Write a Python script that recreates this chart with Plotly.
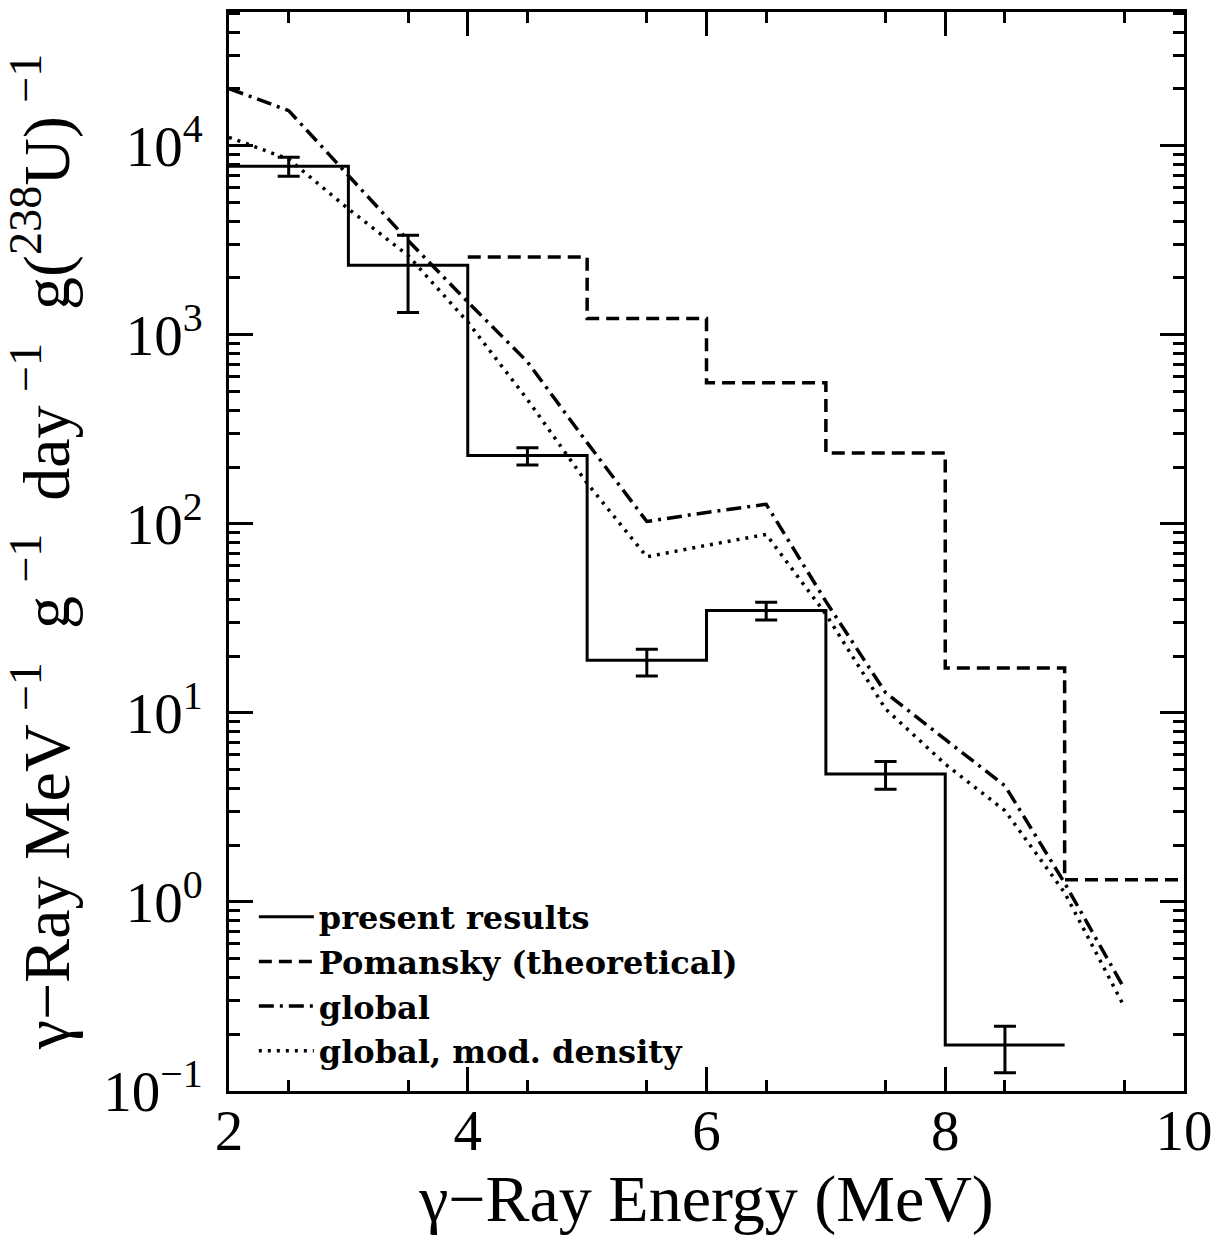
import plotly.graph_objects as go

# ---------------- data ----------------
bin_edges = [2, 3, 4, 5, 6, 7, 8, 9]
present_vals = [7800, 2333, 230, 19.0, 34.8, 4.75, 0.175]

err_x = [2.5, 3.5, 4.5, 5.5, 6.5, 7.5, 8.5]
err_upper = [8700, 3360, 253, 21.7, 38.5, 5.53, 0.22]
err_lower = [6900, 1312, 205, 15.7, 31.0, 3.95, 0.125]

pom_edges = [4, 5, 6, 7, 8, 9, 10]
pom_vals = [2580, 1219, 558, 237, 17.3, 1.31]

model_x = [2.0, 2.5, 3.0, 3.5, 4.0, 4.5, 5.0, 5.5, 6.0, 6.5, 7.0, 7.5, 8.0, 8.5, 9.0, 9.5]
global_vals = [20100, 15350, 6970, 3160, 1493, 720, 269, 103, 115, 127, 38.9, 12.8, 7.24, 4.12, 1.26, 0.348]
global_mod_vals = [11100, 8500, 4640, 2630, 1170, 455, 164, 67, 77, 88, 33.3, 10.5, 5.36, 3.04, 1.12, 0.279]

y_tick_vals = [0.1, 1, 10, 100, 1000, 10000]
y_tick_text = ["10<sup>\u22121</sup>", "10<sup>0</sup>", "10<sup>1</sup>",
               "10<sup>2</sup>", "10<sup>3</sup>", "10<sup>4</sup>"]
x_tick_vals = [2, 4, 6, 8, 10]
x_tick_text = ["2", "4", "6", "8", "10"]

legend_names = ["present results", "Pomansky (theoretical)", "global", "global, mod. density"]

x_title = "\u03b3\u2212Ray Energy (MeV)"
y_title = ("\u03b3\u2212Ray MeV\u2009<sup>\u22121</sup>\u2002g\u2009<sup>\u22121</sup>\u2002"
           "day\u2009<sup>\u22121</sup>\u2002g(<sup>238</sup>U)\u2009<sup>\u22121</sup>")

# ---------------- figure ----------------
TICKFONT = dict(family="Liberation Serif", size=57, color="black")

fig = go.Figure()

fig.add_trace(go.Scatter(
    x=bin_edges, y=present_vals + [present_vals[-1]],
    mode="lines", line=dict(color="black", width=3, shape="hv"),
    name=legend_names[0]))

fig.add_trace(go.Scatter(
    x=pom_edges, y=pom_vals + [pom_vals[-1]],
    mode="lines", line=dict(color="black", width=3.5, shape="hv", dash="13px,7px"),
    name=legend_names[1]))

fig.add_trace(go.Scatter(
    x=model_x, y=global_vals,
    mode="lines", line=dict(color="black", width=3.5, dash="15px,6px,3px,6px"),
    name=legend_names[2]))

fig.add_trace(go.Scatter(
    x=model_x, y=global_mod_vals,
    mode="lines", line=dict(color="black", width=3.5, dash="3px,6px"),
    name=legend_names[3]))

centers = present_vals
fig.add_trace(go.Scatter(
    x=err_x, y=centers, mode="markers",
    marker=dict(size=1, color="rgba(0,0,0,0)"),
    error_y=dict(type="data", symmetric=False,
                 array=[u - c for u, c in zip(err_upper, centers)],
                 arrayminus=[c - l for l, c in zip(err_lower, centers)],
                 color="black", thickness=3, width=11),
    showlegend=False, hoverinfo="skip"))

minor_x = [v / 2 for v in range(5, 20, 2)]
minor_y = [m * 10 ** e for e in range(-1, 5) for m in range(2, 10)]

fig.update_layout(
    width=1223, height=1236,
    margin=dict(l=229, r=39, t=9, b=145),
    paper_bgcolor="white", plot_bgcolor="white",
    showlegend=True,
    legend=dict(x=0.026, y=0.1867, xanchor="left", yanchor="top",
                bgcolor="rgba(0,0,0,0)", borderwidth=0, itemwidth=55,
                font=dict(family="DejaVu Serif", size=32, color="black", weight="bold"),
                tracegroupgap=0),
    xaxis=dict(range=[2, 10], tickmode="array", tickvals=x_tick_vals, ticktext=x_tick_text,
               ticks="inside", ticklen=24, tickwidth=3, tickcolor="black",
               showline=True, linewidth=3, linecolor="black", mirror="ticks",
               showgrid=False, zeroline=False, tickfont=TICKFONT, ticklabelstandoff=-12,
               minor=dict(tickmode="array", tickvals=minor_x, ticks="inside", ticklen=11,
                          tickwidth=3, tickcolor="black", showgrid=False),
               title=dict(text=x_title,
                          font=dict(family="Liberation Serif", size=66, color="black"),
                          standoff=4)),
    yaxis=dict(type="log", range=[-1, 4.708], tickmode="array", tickvals=y_tick_vals,
               ticktext=y_tick_text,
               ticks="inside", ticklen=24, tickwidth=3, tickcolor="black",
               showline=True, linewidth=3, linecolor="black", mirror="ticks",
               showgrid=False, zeroline=False, tickfont=TICKFONT, ticklabelstandoff=12,
               minor=dict(tickmode="array", tickvals=minor_y, ticks="inside", ticklen=11,
                          tickwidth=3, tickcolor="black", showgrid=False),
               title=dict(text=y_title,
                          font=dict(family="Liberation Serif", size=66, color="black"),
                          standoff=14)),
)

fig.write_html("out.html")
